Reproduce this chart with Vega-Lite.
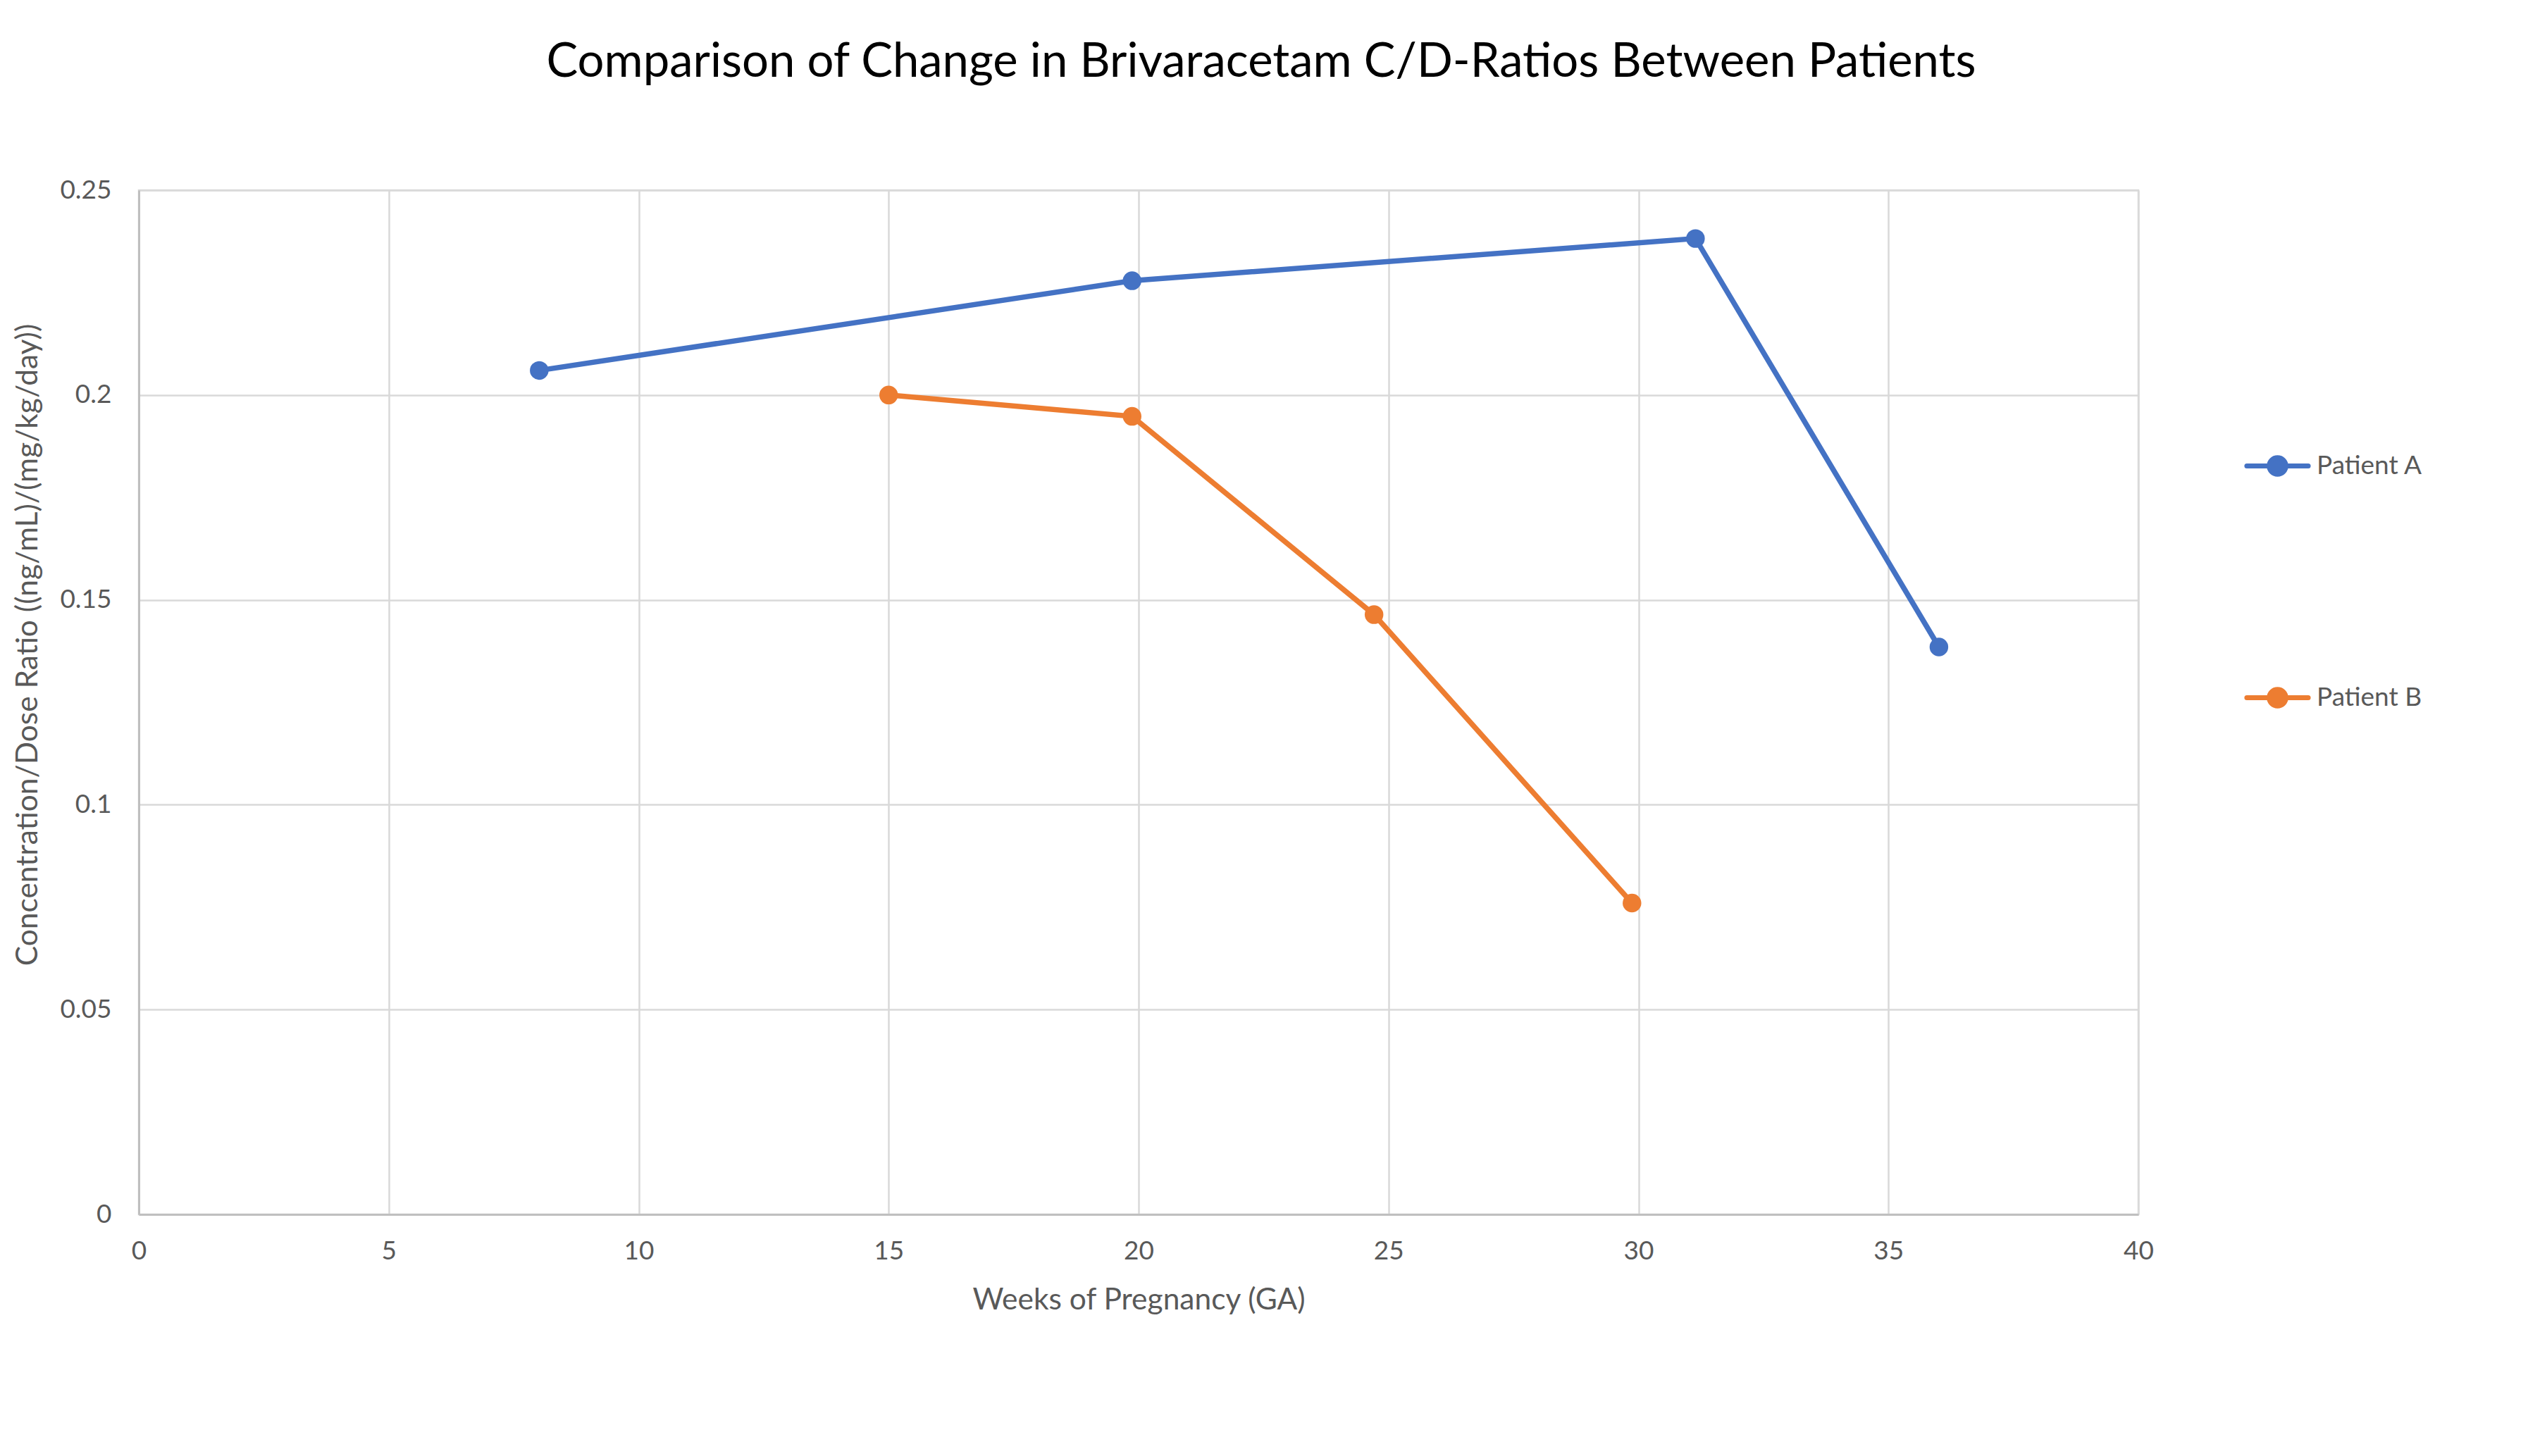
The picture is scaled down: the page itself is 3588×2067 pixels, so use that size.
{
  "$schema": "https://vega.github.io/schema/vega-lite/v6.json",
  "autosize": "none",
  "width": 2838,
  "height": 1454,
  "padding": {"left": 197, "top": 270, "right": 553, "bottom": 343},
  "background": "white",
  "title": {
    "text": "Comparison of Change in Brivaracetam C/D-Ratios Between Patients",
    "font": "Lato",
    "fontSize": 67,
    "fontWeight": "normal",
    "color": "#000000",
    "anchor": "middle",
    "dx": 174,
    "offset": 128
  },
  "data": {
    "values": [
      {"week": 8.01, "ratio": 0.2060, "patient": "Patient A"},
      {"week": 19.87, "ratio": 0.2279, "patient": "Patient A"},
      {"week": 31.14, "ratio": 0.2382, "patient": "Patient A"},
      {"week": 36.01, "ratio": 0.1385, "patient": "Patient A"},
      {"week": 15.0, "ratio": 0.2000, "patient": "Patient B"},
      {"week": 19.87, "ratio": 0.1948, "patient": "Patient B"},
      {"week": 24.71, "ratio": 0.1464, "patient": "Patient B"},
      {"week": 29.87, "ratio": 0.0760, "patient": "Patient B"}
    ]
  },
  "encoding": {
    "x": {
      "field": "week",
      "type": "quantitative",
      "scale": {"domain": [0, 40], "nice": false, "zero": false},
      "axis": {
        "title": "Weeks of Pregnancy (GA)",
        "values": [0, 5, 10, 15, 20, 25, 30, 35, 40],
        "titleFont": "Lato",
        "titleFontSize": 42.5,
        "titleFontWeight": "normal",
        "titleColor": "#595959",
        "titlePadding": 30,
        "labelFont": "Lato",
        "labelFontSize": 37,
        "labelColor": "#595959",
        "labelPadding": 34,
        "labelFlush": false,
        "labelOverlap": false,
        "ticks": false,
        "domainColor": "#BFBFBF",
        "domainWidth": 3,
        "gridColor": "#D9D9D9",
        "gridWidth": 2.5
      }
    },
    "y": {
      "field": "ratio",
      "type": "quantitative",
      "scale": {"domain": [0, 0.25], "nice": false},
      "axis": {
        "title": "Concentration/Dose Ratio ((ng/mL)/(mg/kg/day))",
        "values": [0, 0.05, 0.1, 0.15, 0.2, 0.25],
        "labelExpr": "datum.value == 0 ? '0' : format(datum.value, '.2~f')",
        "titleFont": "Lato",
        "titleFontSize": 42.5,
        "titleFontWeight": "normal",
        "titleColor": "#595959",
        "titleAngle": -90,
        "titleAnchor": null,
        "titleY": 645,
        "titleX": -158,
        "titleAlign": "center",
        "titleBaseline": "middle",
        "labelFont": "Lato",
        "labelFontSize": 37,
        "labelColor": "#595959",
        "labelPadding": 39,
        "labelFlush": false,
        "labelOverlap": false,
        "ticks": false,
        "domainColor": "#BFBFBF",
        "domainWidth": 3,
        "gridColor": "#D9D9D9",
        "gridWidth": 2.5
      }
    },
    "color": {
      "field": "patient",
      "type": "nominal",
      "scale": {"domain": ["Patient A", "Patient B"], "range": ["#4472C4", "#ED7D31"]},
      "legend": {
        "title": null,
        "orient": "none",
        "legendX": 2988,
        "legendY": 344,
        "symbolType": "M-1,0H1M-0.27,0A0.27,0.27 0 1,1 0.27,0A0.27,0.27 0 1,1 -0.27,0",
        "symbolSize": 7600,
        "symbolStrokeWidth": 7,
        "labelFont": "Lato",
        "labelFontSize": 37,
        "labelColor": "#595959",
        "labelOffset": 8,
        "rowPadding": 255,
        "encode": {
          "symbols": {
            "update": {
              "fill": {"scale": "color", "field": "value"},
              "stroke": {"scale": "color", "field": "value"},
              "strokeCap": {"value": "round"},
              "fillOpacity": {"value": 1}
            }
          }
        }
      }
    }
  },
  "layer": [
    {"mark": {"type": "line", "strokeWidth": 7.5, "strokeCap": "round"}},
    {"mark": {"type": "point", "filled": true, "size": 700, "opacity": 1}}
  ],
  "config": {
    "view": {"stroke": "#D9D9D9", "strokeWidth": 2.5},
    "legend": {"symbolLimit": 0}
  }
}
